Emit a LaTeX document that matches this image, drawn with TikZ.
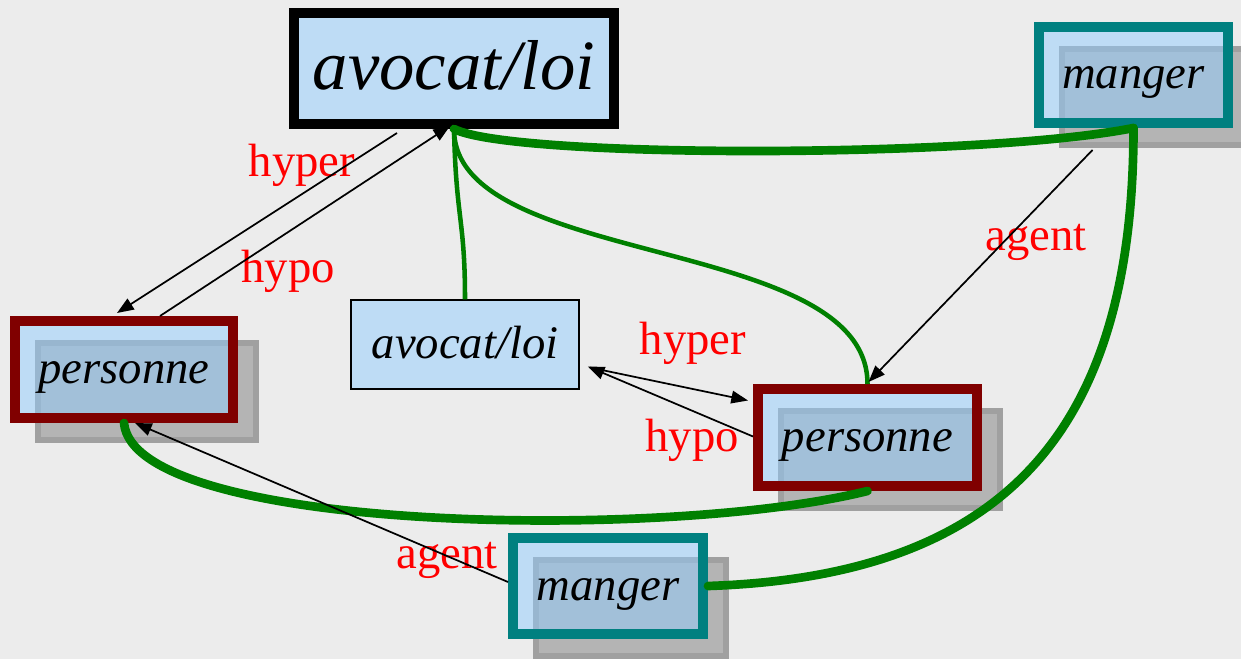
\documentclass[tikz,border=0pt]{standalone}
\usepackage{fontspec}
\setmainfont{Liberation Serif}
\usepackage{xcolor}
\usepackage{tikz}
\usetikzlibrary{arrows.meta,shadows}
\definecolor{boxblue}{RGB}{145,205,255}
\definecolor{marble}{RGB}{236,236,236}
\definecolor{psred}{RGB}{128,0,0}
\definecolor{mgteal}{RGB}{0,128,128}
\definecolor{lgreen}{RGB}{0,128,0}
\definecolor{shadowgray}{RGB}{180,180,180}
\definecolor{shadowedge}{RGB}{160,160,160}

\tikzset{
  concept/.style={rectangle, inner sep=0pt, line width=7.5pt,
    fill=boxblue, fill opacity=0.5, draw opacity=1, text opacity=1,
    text height=28pt, text depth=7pt,
    font=\fontsize{35}{42}\selectfont\itshape},
  shadowed/.style={drop shadow={shadow xshift=17.25pt, shadow yshift=-16.5pt,
    fill=shadowgray, draw=shadowedge, line width=4.5pt, opacity=1}},
  relation/.style={text=red, inner sep=0pt, font=\fontsize{35}{42}\selectfont},
  link/.style={-{Triangle[length=12.5pt,width=9.5pt]}, line width=1.3pt},
  strong/.style={draw=lgreen, line width=6.5pt, line cap=round},
  weak/.style={draw=lgreen, line width=3.4pt},
}

\begin{document}
\begin{tikzpicture}[x=0.75pt,y=0.75pt,yscale=-1,xscale=1]
\useasboundingbox (0,0) rectangle (1241,659);
%Shape: Background
\fill[marble] (0,0) rectangle (1241,659);

%Shape: Rectangle
\node[concept, draw=black, minimum width=240pt, minimum height=83.25pt,
  text height=42pt, text depth=10.6pt, font=\fontsize{53}{60}\selectfont\itshape] (avtop) at (454,68.5) {avocat/loi};
%Shape: Rectangle
\node[concept, shadowed, draw=mgteal, minimum width=141.75pt, minimum height=72pt] (mgtop) at (1133.5,75) {manger};
%Shape: Rectangle
\node[concept, shadowed, draw=psred, minimum width=163.5pt, minimum height=72.75pt] (pstleft) at (124,369.5) {personne};
%Shape: Rectangle
\node[concept, shadowed, draw=psred, minimum width=164.25pt, minimum height=72.75pt] (pstright) at (867.5,437.5) {personne};
%Shape: Rectangle
\node[concept, shadowed, draw=mgteal, minimum width=142.5pt, minimum height=72pt] (mgbot) at (608,586) {manger};
%Shape: Rectangle
\node[concept, draw=black, line width=1.1pt, minimum width=171pt, minimum height=66.75pt] (avmid) at (465,344.5) {avocat/loi};

% Text Node
\node[relation] (hyperleft) at (302,165) {hyper};
% Text Node
\node[relation] (hypoleft) at (288,271) {hypo};
% Text Node
\node[relation] (hypermid) at (693,343) {hyper};
% Text Node
\node[relation] (hypomid) at (692,440) {hypo};
% Text Node
\node[relation] (agenttop) at (1036,242) {agent};
% Text Node
\node[relation] (agentbot) at (447,560) {agent};

%Curve Lines
\draw[weak] (avtop.south) .. controls +(2,90) and +(0,-80) .. (avmid.north);
%Curve Lines
\draw[weak] (avtop.south) .. controls +(0,140) and +(0,-150) .. (pstright.north);
%Curve Lines
\draw[strong] (avtop.south) .. controls +(60,30) and +(-150,30) .. (mgtop.south);
%Curve Lines
\draw[strong] (mgtop.south) .. controls +(0,300) and +(300,-10) .. (mgbot.east);
%Curve Lines
\draw[strong] (pstleft.south) .. controls +(10,110) and +(-200,50) .. (pstright.south);

%Straight Lines
\draw[link] ([shift={(-57,4)}]avtop.south) -- ([shift={(-7,-3)}]pstleft.north);
%Straight Lines
\draw[link] ([shift={(36,0)}]pstleft.north) -- ([shift={(-4,-3)}]avtop.south);
%Straight Lines
\draw[link] ([shift={(10,23)}]avmid.east) -- ([shift={(-5,-37)}]pstright.west);
%Straight Lines
\draw[link] ([shift={(0,-1)}]pstright.west) -- ([shift={(8,22)}]avmid.east);
%Straight Lines
\draw[link] ([shift={(-41,22)}]mgtop.south) -- ([shift={(1,-2)}]pstright.north);
%Straight Lines
\draw[link] ([shift={(0,-4)}]mgbot.west) -- ([shift={(11,0)}]pstleft.south);

\end{tikzpicture}
\end{document}
